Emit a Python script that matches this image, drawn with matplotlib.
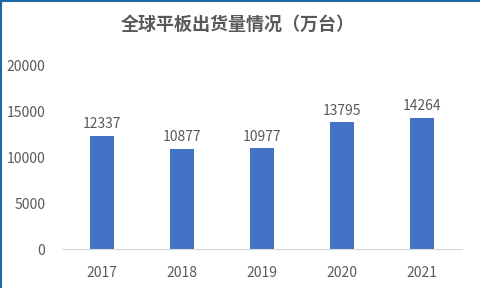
import matplotlib.pyplot as plt
from matplotlib.lines import Line2D

plt.rcParams['font.family'] = ['Noto Sans CJK SC', 'DejaVu Sans']

# data
years = ['2017', '2018', '2019', '2020', '2021']
shipments = [12337, 10877, 10977, 13795, 14264]
title = '全球平板出货量情况（万台）'

fig = plt.figure(figsize=(4.8, 2.88), dpi=100)
ax = fig.add_axes([0.129, 0.135, 0.8335, 0.639])

x = range(len(years))
bars = ax.bar(x, shipments, width=0.31, color='#4472C4', zorder=2)
for i, v in zip(x, shipments):
    ax.text(i, v + 500, str(v), ha='center', va='bottom', fontsize=10, color='#595959')

ax.set_xlim(-0.5, len(years) - 0.5)
ax.set_ylim(0, 20000)
ax.set_yticks([0, 5000, 10000, 15000, 20000])
ax.set_xticks(list(x))
ax.set_xticklabels(years)
ax.tick_params(axis='both', length=0, labelsize=10, labelcolor='#595959')
ax.tick_params(axis='x', pad=12)
ax.tick_params(axis='y', pad=12)
for s in ['top', 'right', 'left']:
    ax.spines[s].set_visible(False)
ax.spines['bottom'].set_color('#D9D9D9')

fig.text(0.496, 0.915, title, ha='center', va='center', fontsize=13,
         fontweight='bold', color='#595959')

# border on top and left
fig.add_artist(Line2D([0.002, 0.002], [0, 1], transform=fig.transFigure, color='#1F6AA5', lw=1.5))
fig.add_artist(Line2D([0, 1], [0.997, 0.997], transform=fig.transFigure, color='#1F6AA5', lw=1.5))

fig.savefig('out.png', dpi=100)
